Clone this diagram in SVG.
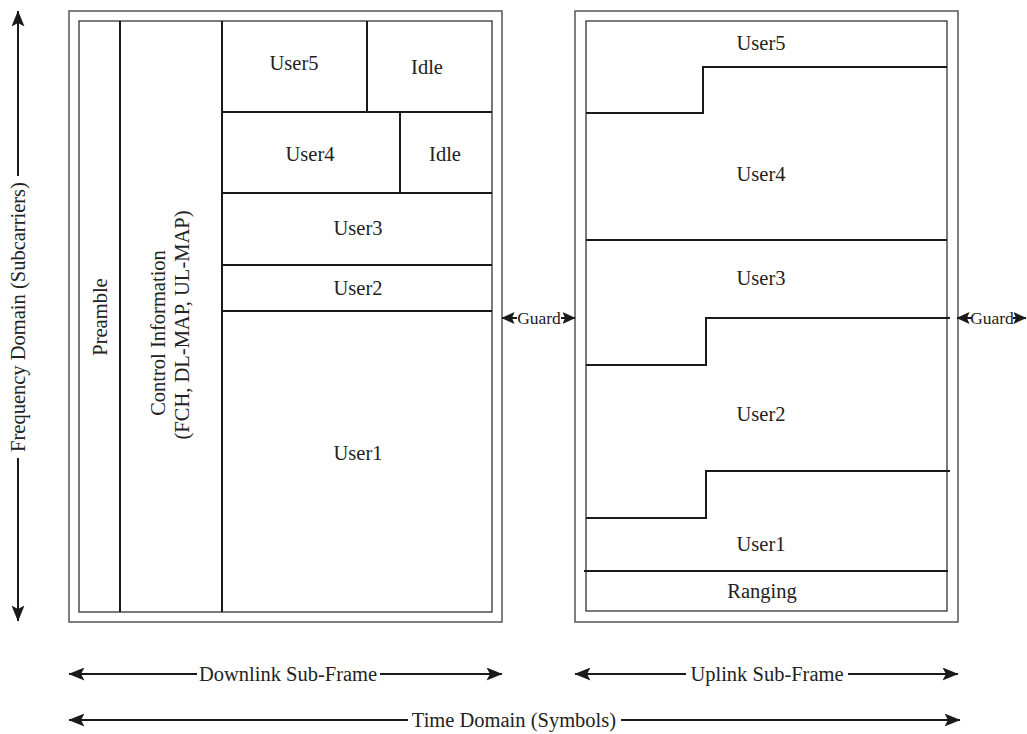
<svg xmlns="http://www.w3.org/2000/svg" width="1027" height="734" viewBox="0 0 1027 734">
<style>
.frame{fill:none;stroke:#555;stroke-width:1.5}
.inner{fill:none;stroke:#333;stroke-width:1.3}
.div{fill:none;stroke:#1a1a1a;stroke-width:2}
.arr{fill:none;stroke:#1a1a1a;stroke-width:2}
text{font-family:"Liberation Serif","Times New Roman",serif;font-size:20.5px;fill:#222;text-anchor:middle;dominant-baseline:central}
.sm{font-size:17.5px}
</style>
<defs>
<marker id="ah" viewBox="0 0 16 13" refX="15.5" refY="6.5" markerWidth="16" markerHeight="13" markerUnits="userSpaceOnUse" orient="auto-start-reverse">
<path d="M0,0 L16,6.5 L0,13 L3.5,6.5 Z" fill="#1a1a1a"/>
</marker>
<marker id="ahs" viewBox="0 0 13 12" refX="12.5" refY="6" markerWidth="13" markerHeight="12" markerUnits="userSpaceOnUse" orient="auto-start-reverse">
<path d="M0,0 L13,6 L0,12 L2.5,6 Z" fill="#1a1a1a"/>
</marker>
</defs>
<g id="downlink">
<rect class="frame" x="69" y="11" width="433" height="611"/>
<rect class="inner" x="79" y="21" width="413" height="591"/>
<line class="div" x1="120" y1="21" x2="120" y2="612"/>
<line class="div" x1="222" y1="21" x2="222" y2="612"/>
<line class="div" x1="222" y1="112" x2="492" y2="112"/>
<line class="div" x1="222" y1="193" x2="492" y2="193"/>
<line class="div" x1="222" y1="265" x2="492" y2="265"/>
<line class="div" x1="222" y1="311" x2="492" y2="311"/>
<line class="div" x1="367" y1="21" x2="367" y2="112"/>
<line class="div" x1="400" y1="112" x2="400" y2="193"/>
<text transform="translate(100,317) rotate(-90)">Preamble</text>
<text transform="translate(158,333) rotate(-90)">Control Information</text>
<text transform="translate(182,325) rotate(-90)">(FCH, DL-MAP, UL-MAP)</text>
<text x="294" y="63">User5</text>
<text x="427" y="67">Idle</text>
<text x="310" y="154">User4</text>
<text x="445" y="154">Idle</text>
<text x="358" y="228">User3</text>
<text x="358" y="288">User2</text>
<text x="358" y="453">User1</text>
</g>
<g id="uplink">
<rect class="frame" x="575" y="11" width="383" height="611"/>
<rect class="inner" x="586" y="21" width="361" height="590"/>
<text x="761" y="43">User5</text>
<text x="761" y="174">User4</text>
<text x="761" y="278">User3</text>
<text x="761" y="414">User2</text>
<text x="761" y="544">User1</text>
<text x="762" y="591">Ranging</text>
</g>
<g id="connectors">
<polyline class="div" points="586,113 703,113 703,67 947,67"/>
<line class="div" x1="586" y1="240" x2="947" y2="240"/>
<polyline class="div" points="586,365 706,365 706,318 950,318"/>
<polyline class="div" points="586,518 706,518 706,471 950,471"/>
<line class="div" x1="584" y1="571" x2="948" y2="571"/>
<line class="arr" x1="18" y1="176" x2="18" y2="11" marker-end="url(#ah)"/>
<line class="arr" x1="18" y1="458" x2="18" y2="621" marker-end="url(#ah)"/>
<text transform="translate(18,317) rotate(-90)">Frequency Domain (Subcarriers)</text>
<line class="arr" x1="517" y1="318" x2="502" y2="318" marker-end="url(#ahs)"/>
<line class="arr" x1="561" y1="318" x2="575" y2="318" marker-end="url(#ahs)"/>
<text class="sm" x="539" y="318">Guard</text>
<line class="arr" x1="972" y1="318" x2="957" y2="318" marker-end="url(#ahs)"/>
<line class="arr" x1="1013" y1="318" x2="1026" y2="318" marker-end="url(#ahs)"/>
<text class="sm" x="992" y="318">Guard</text>
<line class="arr" x1="197" y1="674" x2="69" y2="674" marker-end="url(#ah)"/>
<line class="arr" x1="380" y1="674" x2="502" y2="674" marker-end="url(#ah)"/>
<text x="288" y="674">Downlink Sub-Frame</text>
<line class="arr" x1="686" y1="674" x2="575" y2="674" marker-end="url(#ah)"/>
<line class="arr" x1="848" y1="674" x2="958" y2="674" marker-end="url(#ah)"/>
<text x="767" y="674">Uplink Sub-Frame</text>
<line class="arr" x1="408" y1="720" x2="69" y2="720" marker-end="url(#ah)"/>
<line class="arr" x1="621" y1="720" x2="960" y2="720" marker-end="url(#ah)"/>
<text x="514" y="720">Time Domain (Symbols)</text>
</g>
</svg>
